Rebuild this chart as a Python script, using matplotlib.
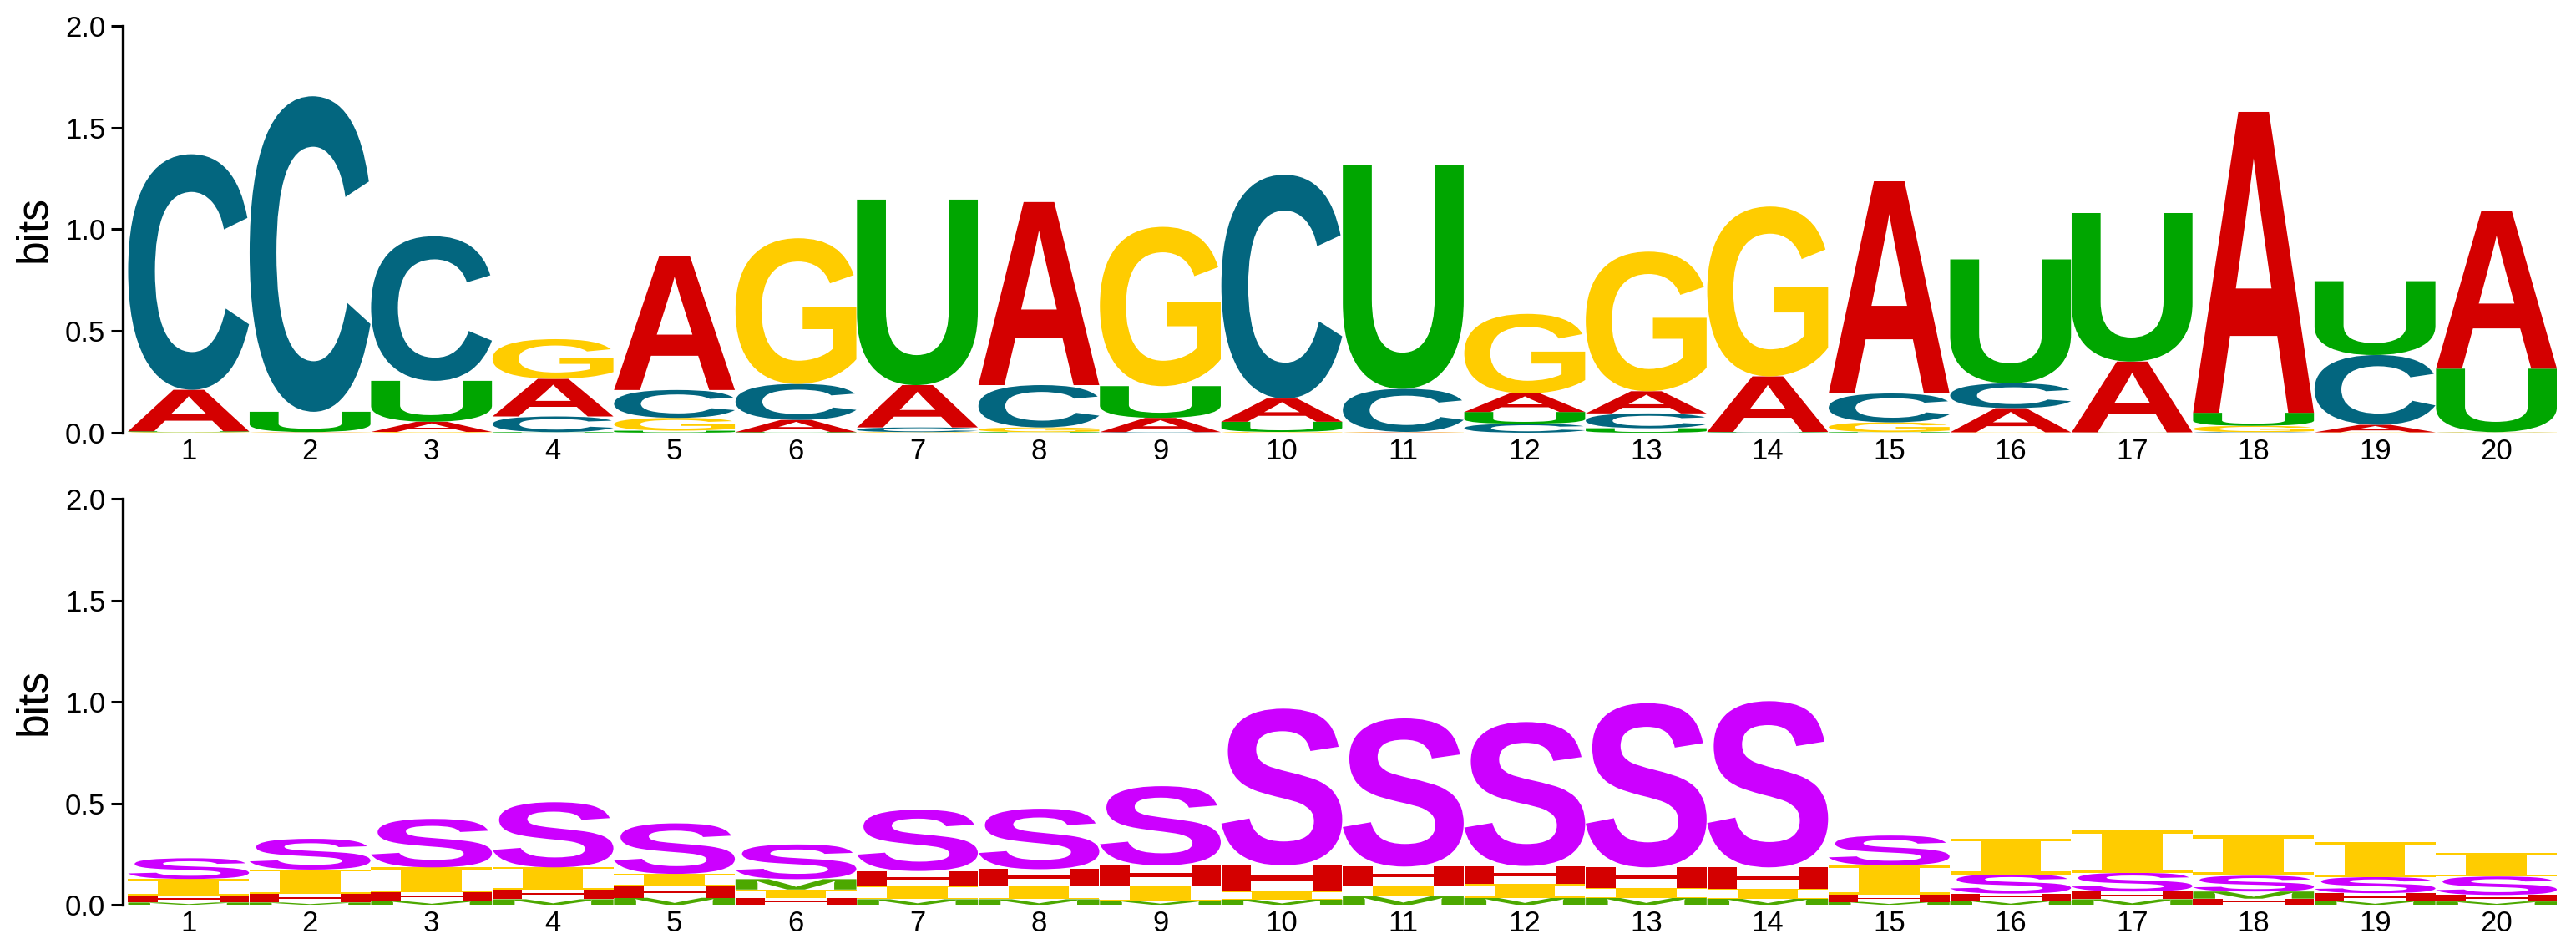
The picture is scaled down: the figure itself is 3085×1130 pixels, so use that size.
import numpy as np
import matplotlib
matplotlib.use('Agg')
import matplotlib.pyplot as plt
from matplotlib.textpath import TextPath
from matplotlib.patches import PathPatch
from matplotlib.font_manager import FontProperties
from matplotlib.transforms import Affine2D

positions = list(range(1, 21))

# nucleotide logo (bits per letter)
nt_letters = ['A', 'C', 'G', 'U']
nt_A = [0.204, 0.001, 0.050, 0.185, 0.659, 0.060, 0.208, 0.900, 0.070, 0.114,
        0.002, 0.091, 0.109, 0.273, 1.043, 0.119, 0.348, 1.479, 0.037, 0.774]
nt_C = [1.158, 1.551, 0.711, 0.077, 0.137, 0.177, 0.023, 0.208, 0.003, 1.100,
        0.212, 0.044, 0.073, 0.002, 0.142, 0.122, 0.001, 0.003, 0.343, 0.001]
nt_G = [0.003, 0.002, 0.004, 0.195, 0.063, 0.716, 0.003, 0.023, 0.783, 0.004,
        0.002, 0.391, 0.686, 0.835, 0.048, 0.002, 0.001, 0.031, 0.002, 0.002]
nt_U = [0.004, 0.100, 0.201, 0.003, 0.010, 0.003, 0.912, 0.003, 0.156, 0.050,
        1.099, 0.058, 0.022, 0.002, 0.003, 0.609, 0.730, 0.064, 0.363, 0.312]

# structure logo (bits per letter)
st_letters = ['M', 'H', 'I', 'S']
st_M = [0.011, 0.011, 0.018, 0.027, 0.034, 0.051, 0.027, 0.027, 0.020, 0.025,
        0.041, 0.034, 0.034, 0.030, 0.014, 0.020, 0.027, 0.035, 0.018, 0.016]
st_H = [0.034, 0.041, 0.043, 0.048, 0.058, 0.031, 0.075, 0.080, 0.099, 0.129,
        0.093, 0.090, 0.102, 0.106, 0.034, 0.035, 0.038, 0.030, 0.039, 0.032]
st_I = [0.082, 0.121, 0.123, 0.109, 0.060, 0.044, 0.064, 0.068, 0.075, 0.040,
        0.054, 0.067, 0.048, 0.048, 0.146, 0.177, 0.209, 0.198, 0.174, 0.116]
st_S = [0.102, 0.152, 0.239, 0.321, 0.249, 0.171, 0.302, 0.298, 0.390, 0.772,
        0.730, 0.709, 0.809, 0.819, 0.147, 0.095, 0.092, 0.078, 0.079, 0.091]

colors = {'A': '#D40000', 'C': '#03667F', 'G': '#FFCC00', 'U': '#00A600',
          'M': '#4CA800', 'H': '#D40000', 'I': '#FFCC00', 'S': '#CC00FF'}

fp_sans = FontProperties(family='Liberation Sans', weight='bold')
fp_serif = FontProperties(family='DejaVu Serif', weight='bold')


def draw_letter(ax, ch, x, y, w, h, color):
    fp = fp_serif if ch == 'I' else fp_sans
    p = TextPath((0, 0), ch, size=1, prop=fp)
    bb = p.get_extents()
    t = Affine2D().translate(-bb.x0, -bb.y0).scale(w / bb.width, h / bb.height).translate(x - w / 2, y)
    ax.add_patch(PathPatch(t.transform_path(p), fc=color, ec='none', lw=0))


def draw_logo(ax, letters, columns):
    for i, pos in enumerate(positions):
        heights = [(col[i], l) for l, col in zip(letters, columns)]
        heights.sort()
        y = 0.0
        for h, l in heights:
            if h > 0:
                draw_letter(ax, l, pos, y, 0.995, h, colors[l])
            y += h

    ax.set_xlim(0.459, 20.5)
    ax.set_ylim(0, 2)
    ax.set_xticks(positions)
    ax.set_xticklabels([str(p) for p in positions])
    ax.set_yticks([0, 0.5, 1.0, 1.5, 2.0])
    ax.set_yticklabels(['0.0', '0.5', '1.0', '1.5', '2.0'])
    for s in ['top', 'right', 'bottom']:
        ax.spines[s].set_visible(False)
    ax.spines['left'].set_linewidth(2.4)
    ax.tick_params(axis='y', length=10, width=2.2, pad=5, labelsize=25)
    ax.tick_params(axis='x', length=0, pad=4, labelsize=25)
    ax.set_ylabel('bits', fontsize=37)
    ax.yaxis.set_label_coords(-0.028, 0.5)


plt.rcParams['font.family'] = ['Liberation Sans', 'DejaVu Sans']
fig = plt.figure(figsize=(30.85, 11.3), dpi=100)
ax1 = fig.add_axes([0.0477, 0.5416, 0.945, 0.431])
ax2 = fig.add_axes([0.0477, 0.0416, 0.945, 0.430])

draw_logo(ax1, nt_letters, [nt_A, nt_C, nt_G, nt_U])
draw_logo(ax2, st_letters, [st_M, st_H, st_I, st_S])

fig.savefig('out.png', dpi=100)
